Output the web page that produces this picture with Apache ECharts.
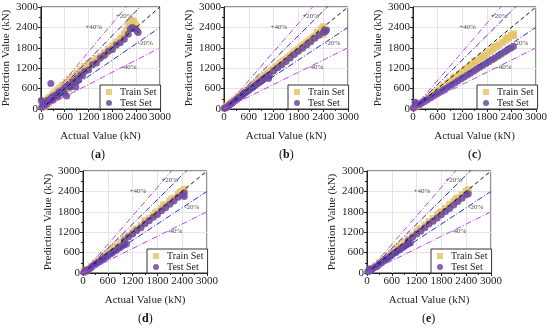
<!DOCTYPE html>
<html><head><meta charset="utf-8">
<script src="https://cdn.jsdelivr.net/npm/echarts@6/dist/echarts.min.js"></script>
<style>html,body{margin:0;padding:0;background:#fff}#c{width:550px;height:327px}</style>
</head><body><div id="c"></div>
<script>
// ---- data ----
var panelLabels = ['a', 'b', 'c', 'd', 'e'];
var axisTicks = [0, 600, 1200, 1800, 2400, 3000];
var xTitle = 'Actual Value (kN)';
var yTitle = 'Prediction Value (kN)';
var seriesNames = ['Train Set', 'Test Set'];
var refRatios = [1.0, 1.2, 0.8, 1.4, 0.6];
var pctLabels = ['+40%', '+20%', '-20%', '-40%'];
var pctX = [1330, 2100, 2630, 2220];
var pctY = [2420, 2730, 1950, 1230];

var trainA = [[30,80],[50,150],[80,60],[100,200],[120,250],[150,120],[180,300],[200,180],[230,350],[260,280],[300,420],[320,300],[350,480],[380,400],[420,550],[450,470],[480,620],[520,560],[550,700],[600,650],[640,780],[680,720],[720,880],[760,800],[800,950],[850,900],[900,1050],[950,1000],[1000,1150],[1050,1120],[1100,1250],[1150,1200],[1200,1350],[1250,1300],[1300,1400],[1350,1380],[1400,1480],[1450,1460],[1500,1550],[1550,1560],[1600,1650],[1650,1640],[1700,1750],[1750,1760],[1800,1850],[1850,1860],[1900,1950],[1950,1980],[2000,2050],[2050,2100],[2100,2200],[2150,2300],[2200,2450],[2250,2550],[2300,2600],[2350,2550],[2400,2450],[2330,2400],[700,600],[500,420],[900,820]];
var testA = [[20,50],[10,250],[60,120],[90,100],[110,200],[140,150],[170,260],[200,220],[250,750],[250,300],[280,350],[300,260],[350,400],[400,420],[420,350],[450,500],[500,480],[550,560],[600,450],[620,650],[650,380],[700,700],[750,650],[800,800],[850,780],[880,650],[900,900],[950,850],[1000,1000],[1050,980],[1100,1100],[1200,1150],[1300,1300],[1400,1350],[1500,1500],[1600,1580],[1700,1700],[1800,1750],[1900,1880],[2000,1950],[2100,2050],[2200,2200],[2250,2350],[2300,2400],[2380,2350],[2450,2250],[2420,2300]];

var trainB = [[20,30],[60,70],[100,110],[150,160],[200,210],[250,260],[300,300],[350,360],[400,400],[450,450],[500,500],[550,540],[600,600],[650,640],[700,700],[750,740],[800,790],[850,840],[900,880],[950,940],[1000,990],[1050,1040],[1100,1080],[1150,1140],[1200,1170],[1250,1230],[1300,1270],[1350,1330],[1400,1370],[1450,1420],[1500,1460],[1550,1520],[1600,1560],[1650,1610],[1700,1660],[1750,1710],[1800,1750],[1850,1800],[1900,1850],[1950,1900],[2000,1950],[2050,2000],[2100,2050],[2150,2100],[2200,2150],[2250,2250],[2300,2250],[2350,2350],[2400,2420],[2450,2300],[2400,2200]];
var testB = [[10,20],[40,40],[80,60],[120,100],[160,150],[200,180],[250,230],[300,270],[350,320],[400,370],[450,410],[500,460],[550,510],[600,550],[650,600],[700,640],[750,690],[800,740],[850,780],[900,830],[950,880],[1000,920],[1050,970],[1100,1000],[1080,900],[1200,1120],[1300,1210],[1400,1300],[1500,1400],[1600,1500],[1700,1600],[1800,1700],[1900,1790],[2000,1880],[2100,1980],[2200,2080],[2300,2170],[2400,2250],[2450,2280],[2480,2320]];

var trainC = [[20,40],[80,90],[150,140],[220,200],[300,270],[380,340],[450,410],[530,480],[600,540],[680,610],[750,680],[830,750],[900,810],[980,880],[1050,950],[1130,1020],[1200,1080],[1280,1150],[1350,1220],[1430,1290],[1500,1350],[1580,1420],[1650,1490],[1730,1560],[1800,1620],[1880,1690],[1950,1760],[2030,1830],[2100,1890],[2180,1960],[2250,2030],[2330,2100],[2400,2160],[2450,2210],[2450,2160],[1000,930],[1500,1390],[2000,1830],[2300,2080],[1700,1560]];
var testC = [[10,30],[60,100],[100,150],[50,200],[150,130],[200,170],[280,220],[350,270],[430,330],[500,380],[580,440],[650,490],[730,550],[800,600],[880,660],[950,710],[1030,770],[1100,830],[1180,890],[1250,940],[1330,1000],[1400,1050],[1480,1110],[1550,1170],[1630,1230],[1700,1280],[1780,1340],[1850,1390],[1930,1450],[2000,1500],[2080,1560],[2150,1620],[2230,1680],[2300,1730],[2380,1790],[2450,1840]];

var trainD = [[30,50],[100,110],[200,200],[300,300],[400,390],[500,490],[600,590],[700,700],[800,790],[900,900],[1000,990],[1100,1100],[1200,1190],[1300,1300],[1400,1400],[1500,1500],[1600,1600],[1700,1690],[1800,1800],[1900,1900],[2000,2000],[2100,2110],[2200,2200],[2300,2300],[2400,2400],[2450,2460],[2350,2380],[1950,2000],[1500,1540],[1000,1040],[1250,1260],[1750,1760],[2150,2170],[750,760],[500,520]];
var testD = [[20,20],[60,80],[100,60],[150,120],[200,160],[250,220],[300,250],[350,300],[400,330],[450,380],[500,420],[550,470],[600,500],[650,560],[700,580],[750,640],[800,660],[850,720],[900,750],[950,800],[1000,830],[1050,850],[1000,950],[1100,1060],[1200,1150],[1300,1250],[1400,1330],[1500,1450],[1600,1540],[1700,1640],[1800,1720],[1900,1830],[2000,1920],[2100,2020],[2200,2120],[2300,2230],[2400,2300],[2450,2350],[2450,2250]];

var trainE = [[30,60],[100,120],[200,210],[300,300],[400,400],[500,510],[600,600],[700,710],[800,800],[900,910],[1000,1000],[1100,1110],[1200,1200],[1300,1310],[1400,1400],[1500,1510],[1600,1600],[1700,1710],[1800,1800],[1900,1900],[2000,2010],[2100,2100],[2200,2210],[2300,2300],[2400,2400],[2450,2450],[1250,1260],[1750,1760],[2150,2170],[750,760]];
var testE = [[20,40],[60,120],[100,80],[150,140],[200,180],[250,200],[300,260],[350,300],[400,350],[450,400],[500,430],[550,480],[600,520],[650,580],[700,600],[750,660],[800,690],[850,740],[900,780],[950,820],[1000,860],[1050,880],[1000,950],[1100,1050],[1200,1150],[1300,1230],[1400,1330],[1500,1440],[1600,1520],[1700,1620],[1800,1710],[1900,1810],[2000,1900],[2100,2000],[2200,2100],[2300,2200],[2400,2300],[2450,2330]];

var trainSets = [trainA, trainB, trainC, trainD, trainE];
var testSets = [testA, testB, testC, testD, testE];

// ---- layout ----
var FONT = 'Liberation Serif';
var gridPos = [[36, 7], [224, 7], [413, 7], [83, 171], [367, 171]];
var GW = 124, GH = 102;
var trainColor = '#e6c46c', testColor = '#6b4a9c';
var refColors = ['#111111', '#2b2bd6', '#2b2bd6', '#c044f0', '#c044f0'];
var refDash = [[4, 3], [6, 2, 1, 2], [6, 2, 1, 2], [6, 2, 1, 2], [6, 2, 1, 2]];

var grids = [], xAxes = [], yAxes = [], series = [], legends = [], graphics = [];
var axMax = axisTicks[axisTicks.length - 1];
var axStep = axisTicks[1] - axisTicks[0];

gridPos.forEach(function (p, i) {
  grids.push({left: p[0], top: p[1], width: GW, height: GH, show: true, borderColor: '#222', borderWidth: 1, backgroundColor: 'transparent'});
  var common = {
    gridIndex: i, type: 'value', min: axisTicks[0], max: axMax, interval: axStep,
    axisLine: {show: true, onZero: false, lineStyle: {color: '#222', width: 1}},
    axisTick: {show: true, length: 3, inside: false, lineStyle: {color: '#222'}},
    minorTick: {show: true, splitNumber: 2, length: 2, lineStyle: {color: '#222'}},
    splitLine: {show: true, lineStyle: {color: '#e4e4e4', width: 1}},
    axisLabel: {fontFamily: FONT, fontSize: 11, color: '#222', margin: 3, hideOverlap: false,
      formatter: function (v) { return String(v); }},
    nameLocation: 'middle',
    nameTextStyle: {fontFamily: FONT, fontSize: 11, color: '#222'}
  };
  xAxes.push(Object.assign({}, common, {name: xTitle, nameGap: 22}));
  yAxes.push(Object.assign({}, common, {name: yTitle, nameGap: 25}));

  series.push({
    type: 'scatter', name: seriesNames[0], xAxisIndex: i, yAxisIndex: i,
    data: trainSets[i], symbol: 'rect', symbolSize: 7,
    itemStyle: {color: trainColor, opacity: 0.85}, z: 2
  });
  series.push({
    type: 'scatter', name: seriesNames[1], xAxisIndex: i, yAxisIndex: i,
    data: testSets[i], symbol: 'circle', symbolSize: 7,
    itemStyle: {color: testColor, opacity: 0.85}, z: 3
  });
  refRatios.forEach(function (r, k) {
    series.push({
      type: 'line', xAxisIndex: i, yAxisIndex: i, clip: true, silent: true,
      data: [[0, 0], [axMax, axMax * r]], symbol: 'none',
      lineStyle: {color: refColors[k], width: 1, type: refDash[k]}, z: 5
    });
  });
  series.push({
    type: 'scatter', xAxisIndex: i, yAxisIndex: i, silent: true, symbolSize: 0,
    data: pctLabels.map(function (t, k) { return {name: t, value: [pctX[k], pctY[k]]}; }),
    label: {show: true, position: 'inside', formatter: '{b}', fontFamily: FONT, fontSize: 7, color: '#222'}, z: 6
  });
  legends.push({
    data: [{name: seriesNames[0], icon: 'rect'}, {name: seriesNames[1], icon: 'circle'}],
    orient: 'vertical', left: p[0] + 64, top: p[1] + 78,
    borderColor: '#333', borderWidth: 1, padding: [2, 4, 1, 6], itemGap: 1,
    itemWidth: 6, itemHeight: 6, backgroundColor: '#fff',
    textStyle: {fontFamily: FONT, fontSize: 10, color: '#222', padding: [0, 0, 0, 3]}
  });
  graphics.push({
    type: 'text', left: p[0] + GW / 2 - 7, top: p[1] + GH + 40,
    style: {
      text: '(' + '{b|' + panelLabels[i] + '})',
      font: '12px ' + FONT, fill: '#111',
      rich: {b: {fontFamily: FONT, fontSize: 12, fontWeight: 'bold', fill: '#111'}}
    }
  });
});

var chart = echarts.init(document.getElementById('c'), null, {renderer: 'canvas'});
chart.setOption({
  animation: false,
  backgroundColor: '#fff',
  grid: grids, xAxis: xAxes, yAxis: yAxes,
  legend: legends, series: series, graphic: graphics
});
</script></body></html>
